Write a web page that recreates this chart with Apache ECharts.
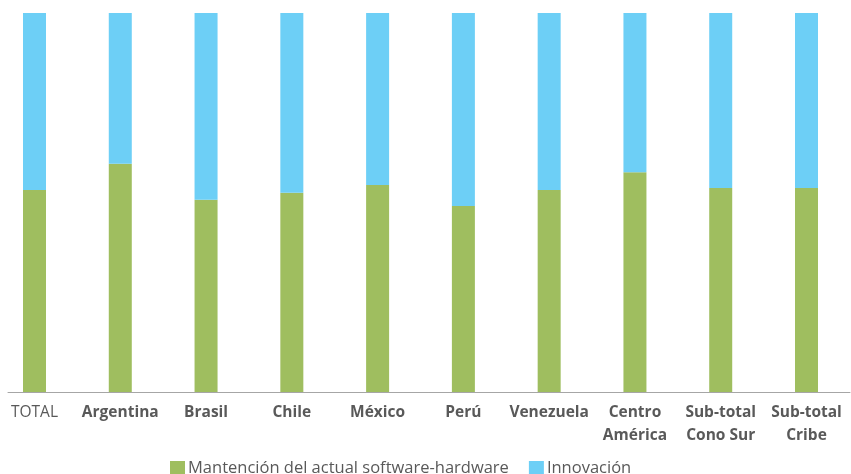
<!DOCTYPE html>
<html>
<head>
<meta charset="utf-8">
<script src="https://cdn.jsdelivr.net/npm/echarts@6/dist/echarts.min.js"></script>
<style>html,body{margin:0;padding:0;background:#fff}#c{width:851px;height:474px}</style>
</head>
<body>
<div id="c"></div>
<script>
const categories = ['TOTAL', 'Argentina', 'Brasil', 'Chile', 'México', 'Perú', 'Venezuela', 'Centro\nAmérica', 'Sub-total\nCono Sur', 'Sub-total\nCribe'];
const mantencion = [53.3, 60.2, 50.7, 52.6, 54.6, 49.1, 53.3, 58.0, 53.8, 53.8];
const innovacion = [46.7, 39.8, 49.3, 47.4, 45.4, 50.9, 46.7, 42.0, 46.2, 46.2];
const seriesNames = ['Mantención del actual software-hardware', 'Innovación'];

const chart = echarts.init(document.getElementById('c'), null, {renderer: 'canvas'});
const font = '"Open Sans", sans-serif';
chart.setOption({
  animation: false,
  grid: [
    {left: 34.5, right: 44.5, top: 13, bottom: 82},
    {left: 8, right: 1, top: 13, bottom: 82}
  ],
  legend: {
    left: 165, top: 455,
    icon: 'rect',
    itemWidth: 15, itemHeight: 15, itemGap: 20,
    textStyle: {fontFamily: font, fontSize: 16.5, color: '#595959', padding: [0, 0, 0, -2]},
    data: seriesNames
  },
  xAxis: [
    {
      type: 'category', gridIndex: 0, boundaryGap: false,
      data: categories.map((c, i) => i === 0 ? {value: c, textStyle: {fontWeight: 'normal'}} : c),
      axisLine: {show: false}, axisTick: {show: false},
      axisLabel: {interval: 0, fontFamily: font, fontSize: 15.5, fontWeight: 'bold', color: '#595959', lineHeight: 23, margin: 9}
    },
    {
      type: 'value', gridIndex: 1, min: 0, max: 1,
      axisLine: {show: true, lineStyle: {color: '#a6a6a6', width: 1}},
      axisTick: {show: false}, axisLabel: {show: false}, splitLine: {show: false}
    }
  ],
  yAxis: [
    {type: 'value', gridIndex: 0, min: 0, max: 100, show: false, splitLine: {show: false}},
    {type: 'value', gridIndex: 1, min: 0, max: 1, show: false, splitLine: {show: false}}
  ],
  series: [
    {name: seriesNames[0], type: 'bar', stack: 't', barWidth: 23, data: mantencion, itemStyle: {color: '#9fbe5f'}},
    {name: seriesNames[1], type: 'bar', stack: 't', barWidth: 23, data: innovacion, itemStyle: {color: '#6dcff6'}}
  ]
});
</script>
</body>
</html>
